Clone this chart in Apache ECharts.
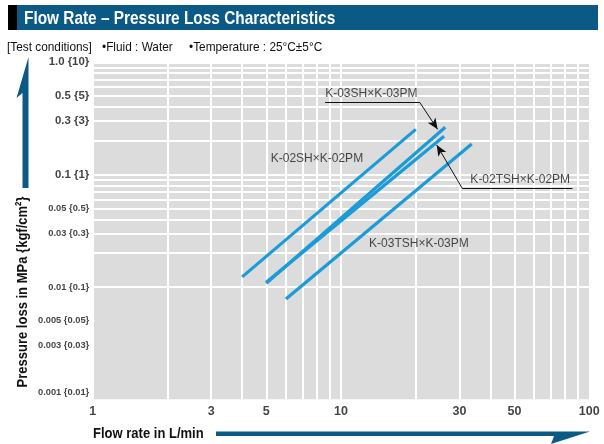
<!DOCTYPE html>
<html>
<head>
<meta charset="utf-8">
<script src="https://cdn.jsdelivr.net/npm/echarts@6/dist/echarts.min.js"></script>
<style>
  html, body { margin: 0; padding: 0; background: #ffffff; }
  #chart { width: 604px; height: 444px; }
</style>
</head>
<body>
<div id="chart"></div>
<script>
// ---- data ----
const flowTicks = [1, 3, 5, 10, 30, 50, 100];
const pressureTicks = [1, 0.5, 0.3, 0.1, 0.05, 0.03, 0.01, 0.005, 0.003, 0.001];
const pressureTickLabels = ['1.0 {10}', '0.5 {5}', '0.3 {3}', '0.1 {1}', '0.05 {0.5}', '0.03 {0.3}',
                            '0.01 {0.1}', '0.005 {0.05}', '0.003 {0.03}', '0.001 {0.01}'];
const pressureMajor = [1, 0.5, 0.3, 0.1];

const seriesNames = ['K-02SH×K-02PM', 'K-03SH×K-03PM', 'K-02TSH×K-02PM', 'K-03TSH×K-03PM'];
const flow02SH  = [4.0, 20.0];
const loss02SH  = [0.0123, 0.253];
const flow03SH  = [5.0, 26.3];
const loss03SH  = [0.0108, 0.264];
const flow02TSH = [5.0, 26.0];
const loss02TSH = [0.0110, 0.220];
const flow03TSH = [6.0, 33.6];
const loss03TSH = [0.0078, 0.187];

// grid decades
const flowDecades = [1, 10];
const pressureDecades = [0.001, 0.01, 0.1];

// ---- fonts ----
const SANS = '"Liberation Sans", Arial, sans-serif';

const yMin = 0.001, yMax = 1, xMin = 1, xMax = 100;

// minor/major grid values
const xGrid = [];
flowDecades.forEach(d => { for (let m = 1; m <= 9; m++) xGrid.push(m * d); });
xGrid.push(100);
const yGrid = [];
pressureDecades.forEach(d => { for (let m = 1; m <= 9; m++) yGrid.push(+(m * d).toPrecision(3)); });
yGrid.push(1);

const zip = (xs, ys) => xs.map((x, i) => [x, ys[i]]);
const curves = [zip(flow02SH, loss02SH), zip(flow03SH, loss03SH), zip(flow02TSH, loss02TSH), zip(flow03TSH, loss03TSH)];

// annotation anchors (flow, pressure)
const curveLabelAt = [[8.0, 0.1397], [13.25, 0.522], [52.7, 0.0908], [20.6, 0.0244]];
const leaders = [
  [[8.63, 0.4367], [20.8, 0.4367], false],
  [[20.8, 0.4367], [24.5, 0.253], true],
  [[30.8, 0.0755], [85.5, 0.0755], false],
  [[30.8, 0.0755], [24.3, 0.1835], true]
];

const BLUE_LINE = '#1b9bd8';
const DARK = '#0b5a86';

const chart = echarts.init(document.getElementById('chart'), null, { renderer: 'canvas' });

const series = [];

// plot grid (white lines over grey field)
series.push({
  type: 'scatter', data: [], silent: true, z: 1,
  markLine: {
    silent: true, symbol: ['none', 'none'], animation: false, z: 1,
    label: { show: false }, emphasis: { disabled: true },
    lineStyle: { color: '#ffffff', width: 2, type: 'solid', opacity: 1 },
    data: yGrid.map(v => ({ yAxis: v })).concat(xGrid.map(v => ({ xAxis: v })))
  }
});

// characteristic curves
curves.forEach((pts, i) => {
  series.push({
    name: seriesNames[i], type: 'line', data: pts, symbol: 'none', z: 3,
    lineStyle: { color: BLUE_LINE, width: 3.2, cap: 'butt' },
    emphasis: { disabled: true }, silent: true, clip: false
  });
});

// curve names
series.push({
  type: 'scatter', silent: true, z: 5, clip: false, symbol: 'circle', symbolSize: 1,
  itemStyle: { color: 'rgba(0,0,0,0)' },
  data: curveLabelAt.map((p, i) => ({
    value: p,
    label: { show: true, position: 'inside', formatter: seriesNames[i],
             fontFamily: SANS, fontSize: 12, color: '#1a1a1a' }
  })),
  emphasis: { disabled: true }
});

// leader lines with arrows
series.push({
  type: 'scatter', data: [], silent: true, z: 6,
  markLine: {
    silent: true, animation: false, symbolSize: [7, 11], z: 6,
    label: { show: false }, emphasis: { disabled: true },
    lineStyle: { color: '#111111', width: 1, type: 'solid', opacity: 1 },
    data: leaders.map(([a, b, arrow]) => [
      { coord: a, symbol: 'none' },
      { coord: b, symbol: arrow ? 'arrow' : 'none' }
    ])
  }
});

// pressure tick labels
series.push({
  type: 'scatter', silent: true, z: 5, clip: false, symbol: 'circle', symbolSize: 1,
  itemStyle: { color: 'rgba(0,0,0,0)' },
  data: pressureTicks.map((v, i) => {
    const major = pressureMajor.includes(v);
    return {
      value: [xMin, v],
      label: { show: true, position: 'left', distance: 3, formatter: pressureTickLabels[i],
               fontFamily: SANS, fontWeight: 'bold', fontSize: major ? 11.4 : 9.3,
               color: '#111', offset: v === yMin ? [0, -7] : [0, 0] }
    };
  }),
  emphasis: { disabled: true }
});

// flow tick labels
series.push({
  type: 'scatter', silent: true, z: 5, clip: false, symbol: 'circle', symbolSize: 1,
  itemStyle: { color: 'rgba(0,0,0,0)' },
  data: flowTicks.map(v => ({
    value: [v, yMin],
    label: { show: true, position: 'bottom', distance: 5, formatter: String(v),
             fontFamily: SANS, fontWeight: 'bold', fontSize: 12.5, color: '#111' }
  })),
  emphasis: { disabled: true }
});

const hiddenAxis = {
  type: 'log', logBase: 10,
  axisLine: { show: false }, axisTick: { show: false },
  axisLabel: { show: false }, splitLine: { show: false }, minorTick: { show: false }
};

// condensed text helper for the frame captions
const caption = (text, x, y, size, weight, extra) => Object.assign({
  type: 'text', x: x, y: y, z: 12, scaleX: 0.82,
  style: { text: text, fill: '#111', font: weight + ' ' + size + 'px ' + SANS, textVerticalAlign: 'middle' }
}, extra || {});

chart.setOption({
  animation: false,
  backgroundColor: '#ffffff',
  grid: { left: 92.7, right: 14.7, top: 62.3, bottom: 44.7, show: true,
          backgroundColor: '#dcdcdc', borderWidth: 0 },
  xAxis: Object.assign({}, hiddenAxis, { min: xMin, max: xMax }),
  yAxis: Object.assign({}, hiddenAxis, { min: yMin, max: yMax }),
  series: series,
  graphic: [
    // heading bar
    { type: 'rect', shape: { x: 8, y: 5, width: 590, height: 25 }, style: { fill: DARK }, z: 10 },
    { type: 'rect', shape: { x: 8, y: 5, width: 9, height: 25 }, style: { fill: '#000000' }, z: 11 },
    { type: 'text', x: 24, y: 18.5, z: 12, scaleX: 0.81,
      style: { text: 'Flow Rate – Pressure Loss Characteristics', fill: '#ffffff',
               font: 'bold 19px ' + SANS, textVerticalAlign: 'middle' } },
    // test conditions
    { type: 'text', x: 7, y: 47.5, z: 12, scaleX: 0.91,
      style: { text: '[Test conditions]', fill: '#111', font: '13px ' + SANS, textVerticalAlign: 'middle' } },
    { type: 'text', x: 102, y: 47.5, z: 12, scaleX: 0.91,
      style: { text: '•Fluid : Water', fill: '#111', font: '13px ' + SANS, textVerticalAlign: 'middle' } },
    { type: 'text', x: 189, y: 47.5, z: 12, scaleX: 0.91,
      style: { text: '•Temperature : 25°C±5°C', fill: '#111', font: '13px ' + SANS, textVerticalAlign: 'middle' } },
    // vertical axis arrow
    { type: 'polygon', z: 10,
      shape: { points: [[28.5, 57], [28.5, 188], [22.5, 188], [22.5, 93], [16.5, 98]] },
      style: { fill: DARK } },
    { type: 'text', x: 23, y: 292, rotation: Math.PI / 2, z: 12, scaleX: 0.84,
      style: { text: 'Pressure loss in MPa {kgf/cm²}', fill: '#111',
               font: 'bold 15.5px ' + SANS, textAlign: 'center', textVerticalAlign: 'middle' } },
    // horizontal axis arrow
    { type: 'polygon', z: 10,
      shape: { points: [[216, 431.5], [590, 431.5], [551, 444], [554, 436], [216, 436]] },
      style: { fill: DARK } },
    { type: 'text', x: 93, y: 434, z: 12, scaleX: 0.84,
      style: { text: 'Flow rate in L/min', fill: '#111',
               font: 'bold 15.5px ' + SANS, textVerticalAlign: 'middle' } }
  ]
});
</script>
</body>
</html>
